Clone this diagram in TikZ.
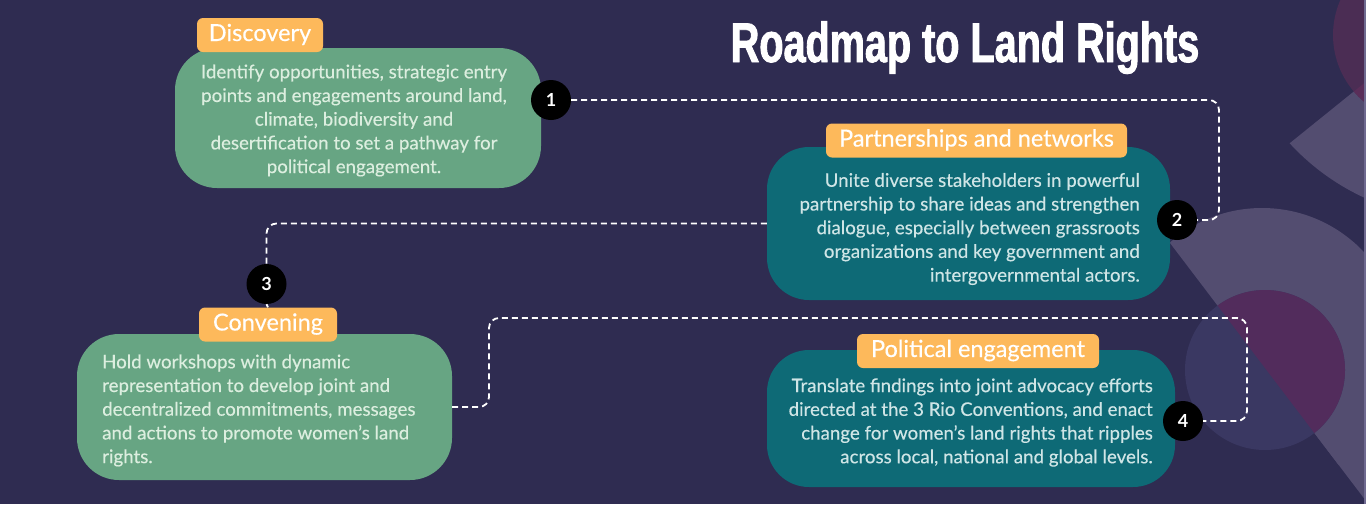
\documentclass[tikz,border=0pt]{standalone}
\usepackage{fontspec}
\setmainfont{Lato}
\newfontfamily\bodyfont{Lato}[FakeBold=0.35]
\newfontfamily\titlefont{Liberation Sans Bold}[FakeStretch=0.707, FakeBold=1.6]
\usetikzlibrary{positioning}
\definecolor{RoadBg}{HTML}{2F2C51}
\definecolor{RoadLilac}{HTML}{534D70}
\definecolor{RoadPlum}{HTML}{522C5C}
\definecolor{RoadSlate}{HTML}{3A3862}
\definecolor{RoadWine}{HTML}{4B2D54}
\definecolor{RoadWineDeep}{HTML}{5A2E59}
\definecolor{RoadEdge}{HTML}{6F6A90}
\definecolor{RoadGreen}{HTML}{67A583}
\definecolor{RoadTeal}{HTML}{0E6A76}
\definecolor{RoadOrange}{HTML}{FDB95B}
\definecolor{RoadGreenInk}{HTML}{DCEEDF}
\definecolor{RoadTealInk}{HTML}{CFE5E6}
\tikzset{
  box/.style={rounded corners=42pt, inner sep=0pt},
  greenbox/.style={box, fill=RoadGreen},
  tealbox/.style={box, fill=RoadTeal},
  bodytext/.style={inner sep=0pt, font=\bodyfont\fontsize{18.7}{23.7}\selectfont},
  greentext/.style={bodytext, text=RoadGreenInk},
  tealtext/.style={bodytext, text=RoadTealInk},
  tag/.style={fill=RoadOrange, rounded corners=6pt, text=white,
              inner sep=0pt, minimum height=34pt, text height=16pt,
              text depth=4pt, font=\bodyfont\fontsize{23.5}{25}\selectfont},
  stepdot/.style={circle, fill=black, minimum size=40pt, inner sep=0pt,
                  text=white, font=\bfseries\fontsize{18}{18}\selectfont},
  link/.style={draw=white, dash pattern=on 6pt off 4pt, line width=1.8pt,
               rounded corners=10pt}
}

\begin{document}
\begin{tikzpicture}[x=1pt, y=-1pt]
  \useasboundingbox (0,0) rectangle (1366,504);
  \fill[RoadBg] (0,0) rectangle (1366,504);

  % shapes in the right margin
  \begin{scope}
    \clip (0,0) rectangle (1366,504);
    \begin{scope}
      \clip (1119,281) -- (1518,-41) -- (1748,244) -- (1349,566) -- cycle;
      \fill[RoadLilac] (1462,-15) circle[radius=234pt];
    \end{scope}
    \fill[RoadWine] (1420,35) circle[radius=87pt];
    \begin{scope}
      \clip (1119,281) -- (1518,-41) -- (1748,244) -- (1349,566) -- cycle;
      \clip (1462,-15) circle[radius=234pt];
      \fill[RoadWineDeep] (1420,35) circle[radius=87pt];
    \end{scope}
    \begin{scope}
      \clip (784,-265) -- (1556,751) -- (2318,172) -- (1546,-844) -- cycle;
      \fill[RoadLilac] (1262,348) circle[radius=140pt];
      \fill[RoadLilac] (1122,348) rectangle (1402,504);
    \end{scope}
    \fill[RoadSlate] (1265,370) circle[radius=80pt];
    \begin{scope}
      \clip (784,-265) -- (1556,751) -- (2318,172) -- (1546,-844) -- cycle;
      \fill[RoadPlum] (1265,370) circle[radius=80pt];
    \end{scope}
    \fill[RoadEdge] (1363.5,0) rectangle (1366,504);
  \end{scope}

  \node[text=white, anchor=base, font=\titlefont\fontsize{56}{56}\selectfont]
    (title) at (965,62) {Roadmap to Land Rights};

  % the four stages
  \node[greenbox, minimum width=366pt, minimum height=140pt] (discovery) at (358,118) {};
  \node[greentext, align=center] (discoverytext) at (354,120.5)
    {Identify opportunities, strategic entry\\
     points and engagements around land,\\
     climate, biodiversity and\\
     desertification to set a pathway for\\
     political engagement.};
  \node[tag, minimum width=126pt] (discoverytag) at (260,35) {Discovery};

  \node[tealbox, minimum width=403pt, minimum height=153pt] (partnerships) at (968.5,223.5) {};
  \node[tealtext, align=right, anchor=east] (partnershipstext) at (1140,229)
    {Unite diverse stakeholders in powerful\\
     partnership to share ideas and strengthen\\
     dialogue, especially between grassroots\\
     organizations and key government and\\
     intergovernmental actors.};
  \node[tag, minimum width=301pt] (partnershipstag) at (976.5,140.5) {Partnerships and networks};

  \node[greenbox, minimum width=375pt, minimum height=146pt] (convening) at (264.5,407) {};
  \node[greentext, align=left, anchor=west] (conveningtext) at (102,410.5)
    {Hold workshops with dynamic\\
     representation to develop joint and\\
     decentralized commitments, messages\\
     and actions to promote women’s land\\
     rights.};
  \node[tag, minimum width=138pt] (conveningtag) at (268,324.5) {Convening};

  \node[tealbox, minimum width=408pt, minimum height=137pt] (political) at (971,418.5) {};
  \node[tealtext, align=right, anchor=east] (politicaltext) at (1153,422.5)
    {Translate findings into joint advocacy efforts\\
     directed at the 3 Rio Conventions, and enact\\
     change for women’s land rights that ripples\\
     across local, national and global levels.};
  \node[tag, minimum width=242pt] (politicaltag) at (978,351) {Political engagement};

  \node[stepdot] (n1) at (551,100) {1};
  \node[stepdot] (n2) at (1177,220) {2};
  \node[stepdot] (n3) at (266.5,284) {3};
  \node[stepdot] (n4) at (1183,421) {4};

  % dashed route between the steps
  \coordinate (turn12) at (1219,0);
  \coordinate (turn34a) at (489,318);
  \coordinate (turn34b) at (1247,318);
  \draw[link] (n1.east) -- (n1.east -| turn12) -- (n2.east -| turn12) -- (n2.east);
  \draw[link] (partnerships.west) -| (n3.north);
  \draw[link] (n3.south) -- (conveningtag.north);
  \draw[link] (convening.east) -- (convening.east -| turn34a) -- (turn34a)
    -- (turn34b) -- (n4.east -| turn34b) -- (n4.east);
\end{tikzpicture}
\end{document}
